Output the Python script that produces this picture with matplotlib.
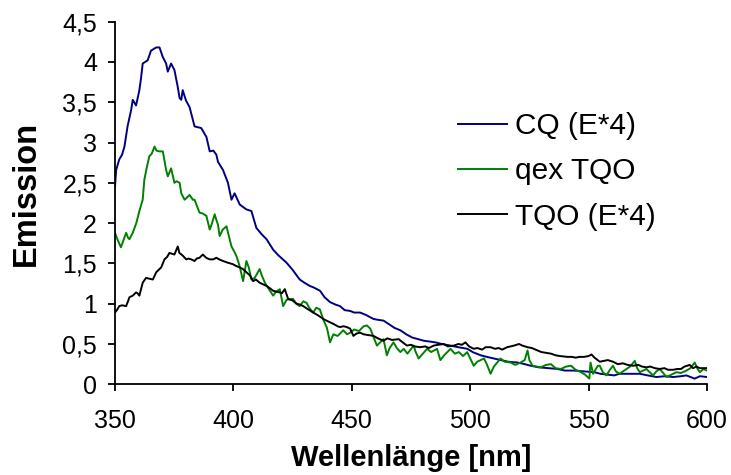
import matplotlib
matplotlib.use("Agg")
import matplotlib.pyplot as plt
from matplotlib.ticker import FuncFormatter, MultipleLocator

plt.rcParams['font.family'] = ['Liberation Sans', 'DejaVu Sans']

# ----------------------------
# Emission spectra
# ----------------------------
cq_nm = [350, 350.5, 351.8, 353, 354, 355.3, 356.8, 357.5, 358.9, 360.3, 361, 361.7,
         363.8, 365.2, 367.4, 368.8, 370.2, 371.6, 372.3, 373.7, 375.1, 376.5, 377.3,
         378, 378.6, 380, 381.5, 383.6, 385, 386.4, 388.6, 390, 391.5, 392.8, 393.5,
         395.6, 397.7, 399.2, 400.5, 402.7, 405.5, 407.6, 409.7, 412, 414, 416.8, 419,
         422.4, 425, 428, 430, 432.3, 434, 436.6, 438.5, 440.8, 443, 445, 447, 449.3,
         451, 453.5, 456, 459.2, 461, 463.4, 466, 468, 470.5, 473, 475.5, 478, 480.4,
         483, 485.3, 488, 491.7, 495, 498.8, 501, 504.4, 507, 510, 513, 516, 520, 523,
         525.5, 529, 533, 536.9, 540, 543.9, 548, 552.4, 555, 558, 560.8, 563, 567,
         571.6, 575, 578.6, 582, 585.7, 589, 591.3, 594.8, 597, 600]
cq_em = [2.45, 2.66, 2.79, 2.85, 2.95, 3.20, 3.40, 3.53, 3.46, 3.65, 3.80, 3.98,
         4.02, 4.14, 4.18, 4.18, 4.06, 3.98, 3.88, 3.98, 3.90, 3.69, 3.55,
         3.53, 3.65, 3.52, 3.44, 3.20, 3.19, 3.18, 3.07, 2.89, 2.90, 2.85, 2.76,
         2.66, 2.50, 2.29, 2.37, 2.23, 2.17, 2.15, 1.94, 1.86, 1.80, 1.67, 1.60,
         1.51, 1.42, 1.30, 1.26, 1.22, 1.20, 1.16, 1.08, 1.02, 0.99, 0.97, 0.92, 0.91,
         0.89, 0.89, 0.86, 0.81, 0.80, 0.79, 0.74, 0.70, 0.67, 0.62, 0.58, 0.56, 0.54,
         0.53, 0.52, 0.50, 0.48, 0.46, 0.44, 0.40, 0.36, 0.34, 0.32, 0.30, 0.28, 0.27, 0.25,
         0.23, 0.21, 0.20, 0.19, 0.17, 0.17, 0.16, 0.15, 0.13, 0.12, 0.11, 0.13, 0.13,
         0.13, 0.11, 0.09, 0.10, 0.09, 0.10, 0.11, 0.07, 0.10, 0.09]

qex_nm = [350, 351, 352.5, 353.5, 354.7, 355.5, 356.1, 357.5, 359, 360.3, 361.7, 362.4,
          363.5, 364.5, 365.5, 366.7, 367.5, 368.8, 370.2, 371.6, 372.3, 373.7, 375.1,
          376, 377.3, 378, 379.4, 380.5, 381.5, 382.9, 383.6, 385.7, 387, 388.6, 390,
          391, 392.1, 392.8, 393.5, 394.2, 395.5, 397.1, 398, 399.2, 400.3, 401.3, 402.5,
          404.1, 405.5, 406.5, 407.6, 409, 411.1, 412, 413.3, 415, 416.8, 418, 419.6, 421,
          422.5, 425.2, 426.5, 428, 429.5, 430.9, 432, 433.7, 435, 436.5, 438, 439.5,
          440.8, 442.2, 444, 446.4, 448, 449.3, 451, 453, 455, 456.4, 457.8, 459, 460.6,
          462, 463.4, 464.8, 466, 467.6, 469, 470.5, 471.9, 473.5, 476.1, 477, 478.2, 480,
          481.8, 483.5, 486, 487.4, 489, 491.7, 493.5, 495.2, 497, 498.7, 500, 501.5, 503,
          505.8, 507, 508.6, 510, 512.8, 514.5, 517.1, 519, 521.3, 523, 524.2, 525, 526.3,
          528, 529.8, 532, 534.1, 536, 538.3, 540.5, 542.6, 544.5, 546.8, 548.5, 550.3,
          550.8, 551.9, 553.9, 554.7, 556, 557.5, 559, 560.3, 561.5, 563.1, 564.5, 566,
          567.5, 569.5, 570.5, 571.6, 573, 574.4, 575.8, 577.2, 578.6, 580, 581.5, 582.9,
          585, 587.1, 589, 591.3, 593, 594.8, 596, 597, 598.5, 600]
qex_em = [1.88, 1.80, 1.70, 1.78, 1.88, 1.82, 1.80, 1.88, 2.00, 2.15, 2.29, 2.54,
          2.70, 2.83, 2.86, 2.95, 2.90, 2.89, 2.89, 2.66, 2.58, 2.68, 2.50,
          2.52, 2.50, 2.37, 2.29, 2.32, 2.35, 2.29, 2.29, 2.13, 2.12, 2.09, 1.92,
          2.00, 2.11, 2.04, 1.98, 1.84, 1.92, 1.96, 1.85, 1.71, 1.65, 1.59, 1.48,
          1.28, 1.53, 1.45, 1.30, 1.32, 1.43, 1.35, 1.26, 1.18, 1.10, 1.15, 1.18, 0.97,
          1.05, 1.06, 1.00, 0.97, 1.03, 1.01, 0.95, 0.89, 0.95, 0.93, 0.80, 0.70,
          0.52, 0.62, 0.60, 0.67, 0.62, 0.64, 0.68, 0.66, 0.72, 0.73, 0.69, 0.60, 0.48,
          0.52, 0.56, 0.36, 0.45, 0.52, 0.45, 0.40, 0.44, 0.38, 0.48, 0.40, 0.32, 0.38,
          0.44, 0.40, 0.44, 0.30, 0.36, 0.44, 0.38, 0.40, 0.35, 0.40, 0.32, 0.23, 0.28,
          0.32, 0.25, 0.13, 0.22, 0.32, 0.28, 0.27, 0.24, 0.27, 0.30, 0.42, 0.30, 0.23,
          0.22, 0.21, 0.24, 0.25, 0.20, 0.19, 0.22, 0.23, 0.18, 0.15, 0.12, 0.07,
          0.27, 0.13, 0.23, 0.23, 0.15, 0.11, 0.18, 0.23, 0.16, 0.13, 0.16, 0.19,
          0.22, 0.29, 0.20, 0.15, 0.17, 0.19, 0.15, 0.11, 0.16, 0.19, 0.14, 0.09,
          0.12, 0.15, 0.14, 0.17, 0.20, 0.27, 0.19, 0.15, 0.19, 0.17]

tqo_nm = [350, 350.8, 351.8, 353, 354.7, 355.5, 356.1, 357.5, 358.9, 359.5, 360.3, 361.7,
          363.1, 364.5, 366, 367.4, 369.5, 370.9, 372, 373, 374, 375.1, 376.5, 377.2,
          378.5, 380.1, 381, 382.2, 383.6, 384.5, 385.7, 387.1, 388.5, 390, 391.5, 392.8,
          394, 395.6, 397.5, 399.8, 401, 402.7, 404, 405.5, 407, 408.3, 409.5, 411.1,
          412.5, 414, 415.5, 416.8, 418, 419.6, 420.5, 421.7, 423.1, 425, 426.7, 428,
          429.5, 431, 433.7, 435.5, 438, 440, 442.2, 444, 445, 446.5, 447.9, 449.3, 450.7,
          452, 453.5, 455, 457, 459.2, 461, 463.4, 465, 467, 469.8, 471.5, 473.3, 475,
          476.5, 478.9, 481, 482.5, 484.6, 486.5, 488.8, 490.5, 493.1, 495, 496.5, 498,
          499.5, 501.5, 503, 505, 506.5, 508.6, 510.5, 512, 513.5, 515.6, 517, 518.5,
          520.6, 522, 524.2, 526, 528.4, 530, 532, 534.1, 536, 538, 541.1, 543, 544.5,
          546.2, 548, 550, 551.2, 552.5, 554.7, 556.5, 558.1, 560.3, 562.3, 564.5, 566.5,
          568.8, 571, 572.5, 574.4, 576, 578, 580, 582, 583.5, 585.7, 587.5, 589, 590.5,
          592.7, 594.1, 595.5, 597, 600]
tqo_em = [0.89, 0.92, 0.97, 0.98, 0.97, 1.03, 1.08, 1.10, 1.14, 1.13, 1.10, 1.26,
          1.32, 1.31, 1.30, 1.39, 1.45, 1.55, 1.58, 1.63, 1.62, 1.61, 1.71, 1.63,
          1.60, 1.55, 1.56, 1.55, 1.53, 1.56, 1.57, 1.61, 1.57, 1.55, 1.55, 1.57,
          1.55, 1.53, 1.51, 1.49, 1.47, 1.45, 1.43, 1.39, 1.35, 1.28, 1.30, 1.26,
          1.24, 1.22, 1.19, 1.16, 1.15, 1.14, 1.13, 1.18, 1.06, 1.04, 1.00, 0.99,
          0.97, 0.94, 0.89, 0.86, 0.81, 0.78, 0.75, 0.72, 0.71, 0.72, 0.71, 0.69, 0.60,
          0.63, 0.64, 0.62, 0.61, 0.60, 0.57, 0.54, 0.57, 0.55, 0.56, 0.52, 0.48, 0.49,
          0.47, 0.46, 0.47, 0.45, 0.48, 0.49, 0.50, 0.47, 0.48, 0.50, 0.49, 0.52,
          0.47, 0.44, 0.45, 0.43, 0.46, 0.46, 0.44, 0.45, 0.43, 0.46, 0.47, 0.48,
          0.50, 0.48, 0.46, 0.45, 0.42, 0.40, 0.39, 0.38, 0.36, 0.35, 0.34, 0.34, 0.33,
          0.34, 0.34, 0.35, 0.37, 0.33, 0.28, 0.29, 0.30, 0.28, 0.25, 0.26, 0.24,
          0.23, 0.24, 0.22, 0.21, 0.22, 0.20, 0.19, 0.20, 0.18, 0.18, 0.19, 0.19, 0.22,
          0.24, 0.20, 0.22, 0.20, 0.20]

labels = ["CQ (E*4)", "qex TQO", "TQO (E*4)"]
colors = ["#000080", "#008000", "#000000"]

fig = plt.figure(figsize=(7.31, 4.75), dpi=100)
ax = fig.add_axes([0.1573, 0.191, 0.8099, 0.7634])

ax.plot(cq_nm, cq_em, color=colors[0], lw=1.4, label=labels[0])
ax.plot(qex_nm, qex_em, color=colors[1], lw=1.4, label=labels[1])
ax.plot(tqo_nm, tqo_em, color=colors[2], lw=1.4, label=labels[2])

ax.set_xlim(350, 600)
ax.set_ylim(0, 4.5)
ax.xaxis.set_major_locator(MultipleLocator(50))
ax.yaxis.set_major_locator(MultipleLocator(0.5))
ax.yaxis.set_major_formatter(FuncFormatter(lambda v, p: f"{v:g}".replace('.', ',')))

for s in ['top', 'right']:
    ax.spines[s].set_visible(False)
for s in ['left', 'bottom']:
    ax.spines[s].set_linewidth(1.3)
ax.tick_params(axis='both', direction='out', length=5, width=1.3, labelsize=18)
ax.tick_params(axis='x', pad=13)
ax.tick_params(axis='y', pad=8)

ax.set_xlabel("Wellenlänge [nm]", fontsize=21, fontweight='bold', labelpad=8)
ax.set_ylabel("Emission", fontsize=23.5, fontweight='bold')
ax.yaxis.set_label_coords(-0.124, 0.525)

leg = ax.legend(loc='upper left', bbox_to_anchor=(458 / 731, 1 - 112 / 475),
                bbox_transform=fig.transFigure, frameon=False, fontsize=21.5,
                handlelength=1.65, handletextpad=0.25, labelspacing=0.58,
                borderpad=0, borderaxespad=0)
for line in leg.get_lines():
    line.set_linewidth(1.4)

fig.savefig("out.png", dpi=100)
